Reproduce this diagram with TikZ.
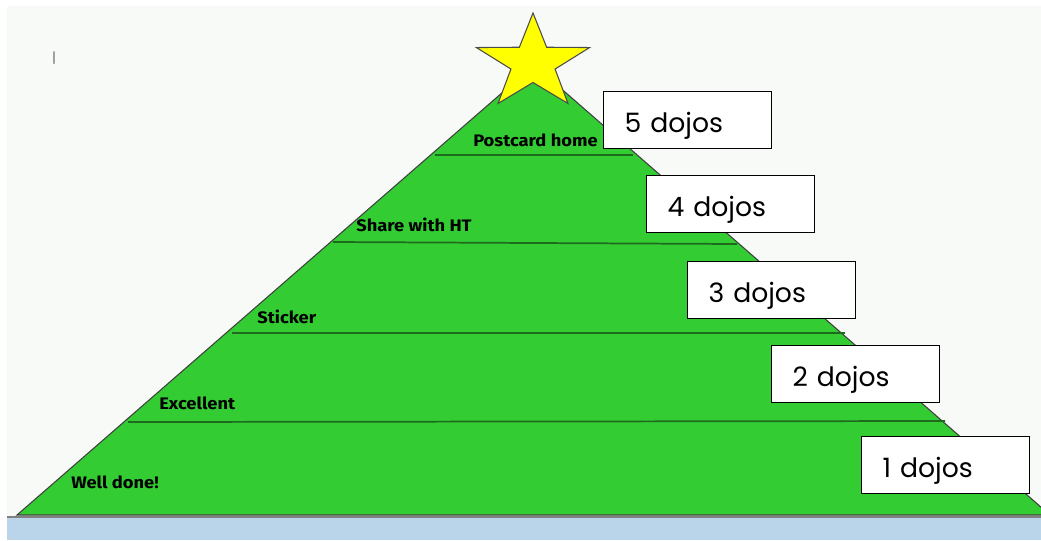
\documentclass[tikz,border=0pt]{standalone}
\usepackage{fontspec}
\newfontfamily\boxfont{Poppins}
\newfontfamily\labfont{Fira Sans}[FakeStretch=1.1]
\newfontfamily\markfont{Liberation Sans}
\definecolor{bgpale}{HTML}{F7FAF7}
\definecolor{treegreen}{HTML}{33CC33}
\definecolor{linegreen}{HTML}{1E6A1E}
\definecolor{groundblue}{HTML}{BAD5E9}
\definecolor{stary}{HTML}{FFFF00}
\begin{document}
\begin{tikzpicture}[x=0.75pt,y=-0.75pt,
  dojobox/.style={draw=black, line width=1pt, fill=white, anchor=north west,
    minimum width=126pt, minimum height=42.75pt, inner xsep=15.75pt,
    text width=94.5pt, align=left, text height=22pt, text depth=4pt,
    font=\boxfont\fontsize{20}{24}\selectfont},
  lab/.style={anchor=west, inner sep=0pt, font=\labfont\bfseries\fontsize{12.5}{14}\selectfont},
  tierline/.style={draw=linegreen, line width=1.3pt}]
\clip (0,0) rectangle (1041,540);
\fill[white] (0,0) rectangle (1041,540);
\fill[bgpale] (7,6) rectangle (1041,516);
\fill[groundblue] (7,517) rectangle (1041,540);
% tree
\draw[fill=treegreen, draw=black!75, line width=0.8pt] (17,515) -- (534,65) -- (1050,515) -- cycle;
\draw[gray, line width=1.5pt] (7,516.5) -- (1041,516.5);
% tier lines
\draw[tierline] (435,155) -- (633,155);
\draw[tierline] (333,242) -- (737,244);
\draw[tierline] (232,333) -- (845,333);
\draw[tierline] (128,422) -- (945,421);
% star
\draw[fill=stary, draw=black!70, line width=0.8pt, xscale=1.19, shift={(533/1.19,63)}]
  (90:-50) -- (126:-19.5) -- (162:-50) -- (198:-19.5) -- (234:-50) -- (270:-19.5)
  -- (306:-50) -- (342:-19.5) -- (18:-50) -- (54:-19.5) -- cycle;
% labels
\node[lab] (l5) at (473,140) {Postcard home};
\node[lab] (l4) at (356,225) {Share with HT};
\node[lab] (l3) at (257,317) {Sticker};
\node[lab] (l2) at (159,403) {Excellent};
\node[lab] (l1) at (71,482) {Well done!};
% boxes
\node[dojobox] (b5) at (603,91) {5 dojos};
\node[dojobox] (b4) at (646,175) {4 dojos};
\node[dojobox] (b3) at (687,261) {3 dojos};
\node[dojobox] (b2) at (771,345) {2 dojos};
\node[dojobox] (b1) at (861,436) {1 dojos};
% small mark
\node[inner sep=0pt, text=black!65, font=\markfont\fontsize{10}{12}\selectfont] (mk) at (54,58) {|};
\end{tikzpicture}
\end{document}
